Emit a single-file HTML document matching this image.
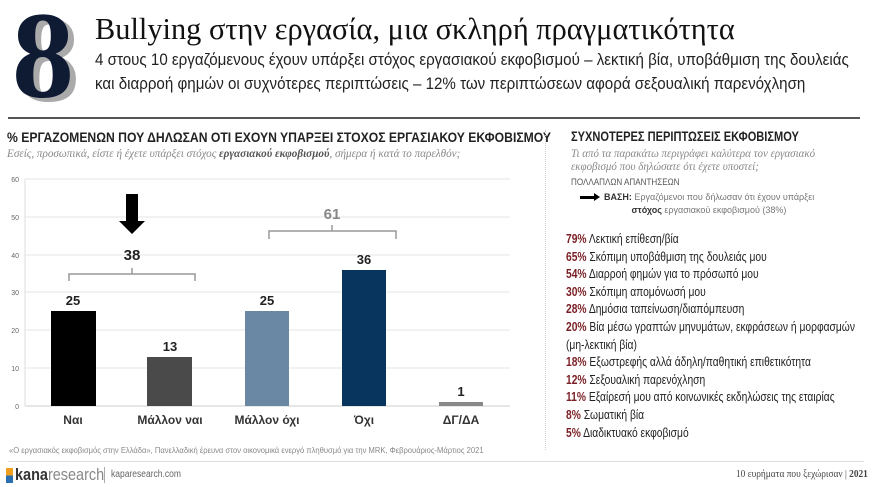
<!DOCTYPE html>
<html><head><meta charset="utf-8"><style>
*{margin:0;padding:0;box-sizing:border-box}
body{width:875px;height:487px;background:#fff;position:relative;overflow:hidden;font-family:"Liberation Sans","DejaVu Sans",sans-serif;color:#222}
.a{position:absolute;white-space:nowrap}
.c{transform-origin:0 0}
.serif{font-family:"Liberation Serif","DejaVu Serif",serif}
.it{font-family:"Liberation Serif",serif;font-style:italic;color:#888}
.r div{height:17.6px;font-size:13px;color:#222}
.r b{color:#7a1f24}
</style></head><body>
<div class="a serif" style="left:18px;top:-2px;font-size:124px;font-weight:bold;color:#aaa;line-height:1">8</div>
<div class="a serif" style="left:12px;top:-6px;font-size:124px;font-weight:bold;color:#0f1a33;line-height:1">8</div>
<div class="a serif c" style="left:95px;top:11px;font-size:31px;color:#111;transform:scaleX(.98)">Bullying στην εργασία, μια σκληρή πραγματικότητα</div>
<div class="a c" style="left:95px;top:50px;font-size:17px;color:#222;transform:scaleX(.89)">4 στους 10 εργαζόμενους έχουν υπάρξει στόχος εργασιακού εκφοβισμού – λεκτική βία, υποβάθμιση της δουλειάς</div>
<div class="a c" style="left:95px;top:74px;font-size:17px;color:#222;transform:scaleX(.89)">και διαρροή φημών οι συχνότερες περιπτώσεις – 12% των περιπτώσεων αφορά σεξουαλική παρενόχληση</div>
<div class="a" style="left:8px;top:117px;width:852px;height:2px;background:#555"></div>

<div class="a c" style="left:7px;top:129px;font-size:14px;font-weight:bold;color:#222;transform:scaleX(.87)">% ΕΡΓΑΖΟΜΕΝΩΝ ΠΟΥ ΔΗΛΩΣΑΝ ΟΤΙ ΕΧΟΥΝ ΥΠΑΡΞΕΙ ΣΤΟΧΟΣ ΕΡΓΑΣΙΑΚΟΥ ΕΚΦΟΒΙΣΜΟΥ</div>
<div class="a it c" style="left:7px;top:148px;font-size:11.5px;transform:scaleX(.97)">Εσείς, προσωπικά, είστε ή έχετε υπάρξει στόχος <b style="color:#555">εργασιακού εκφοβισμού</b>, σήμερα ή κατά το παρελθόν;</div>

<svg class="a" style="left:0;top:0" width="545" height="440" font-family="Liberation Sans, sans-serif">
<g stroke="#e6e6e6" stroke-width="1">
<line x1="25" x2="510" y1="179" y2="179"/><line x1="25" x2="510" y1="217" y2="217"/><line x1="25" x2="510" y1="255" y2="255"/><line x1="25" x2="510" y1="292" y2="292"/><line x1="25" x2="510" y1="330" y2="330"/><line x1="25" x2="510" y1="368" y2="368"/>
</g>
<line x1="25" x2="510" y1="406" y2="406" stroke="#ccc"/>
<line x1="25" x2="25" y1="179" y2="406" stroke="#ddd"/>
<g font-size="7" fill="#666" text-anchor="end">
<text x="19" y="182">60</text><text x="19" y="220">50</text><text x="19" y="258">40</text><text x="19" y="295">30</text><text x="19" y="333">20</text><text x="19" y="371">10</text><text x="19" y="409">0</text>
</g>
<rect x="51" y="311" width="45" height="95" fill="#000"/>
<rect x="147" y="357" width="45" height="49" fill="#4a4a4a"/>
<rect x="245" y="311" width="44" height="95" fill="#6a88a3"/>
<rect x="342" y="270" width="44" height="136" fill="#07355e"/>
<rect x="439" y="402" width="44" height="4" fill="#888"/>
<g font-size="13" font-weight="bold" fill="#222" text-anchor="middle">
<text x="73" y="305">25</text><text x="170" y="351">13</text><text x="267" y="305">25</text><text x="364" y="264">36</text><text x="461" y="396">1</text>
<text x="132" y="260" font-size="15">38</text>
<text x="332" y="219" font-size="15" fill="#888">61</text>
</g>
<g font-size="12" font-weight="bold" fill="#333" text-anchor="middle">
<text x="73" y="424">Ναι</text><text x="170" y="424">Μάλλον ναι</text><text x="267" y="424">Μάλλον όχι</text><text x="364" y="424">Όχι</text><text x="461" y="424">ΔΓ/ΔΑ</text>
</g>
<path d="M69,281 V274 H195 V281 M132,274 V268" fill="none" stroke="#999" stroke-width="1.5"/>
<path d="M269,239 V231 H396 V239 M332,231 V225" fill="none" stroke="#999" stroke-width="1.5"/>
<path d="M126,194 H138 V221 H145 L132,234 L119,221 H126 Z" fill="#000"/>
</svg>

<div class="a" style="left:545px;top:130px;width:0;height:320px;border-left:1px dotted #ccc"></div>

<div class="a c" style="left:571px;top:129px;font-size:13.5px;font-weight:bold;color:#222;transform:scaleX(.82)">ΣΥΧΝΟΤΕΡΕΣ ΠΕΡΙΠΤΩΣΕΙΣ ΕΚΦΟΒΙΣΜΟΥ</div>
<div class="a it c" style="left:571px;top:148px;font-size:11.5px;line-height:13px;transform:scaleX(.95)">Τι από τα παρακάτω περιγράφει καλύτερα τον εργασιακό<br>εκφοβισμό που δηλώσατε ότι έχετε υποστεί;</div>
<div class="a c" style="left:571px;top:177px;font-size:9.5px;color:#555;transform:scaleX(.85)">ΠΟΛΛΑΠΛΩΝ ΑΠΑΝΤΗΣΕΩΝ</div>
<div class="a" style="left:580px;top:196px;width:16px;height:3px;background:#000"></div>
<div class="a" style="left:594px;top:193px;border-left:6px solid #000;border-top:4.5px solid transparent;border-bottom:4.5px solid transparent"></div>
<div class="a" style="left:604px;top:191px;font-size:9px;color:#777;line-height:13px"><b style="color:#333">ΒΑΣΗ:</b> Εργαζόμενοι που δήλωσαν ότι έχουν υπάρξει<br>&nbsp;&nbsp;&nbsp;&nbsp;&nbsp;&nbsp;&nbsp;&nbsp;&nbsp;&nbsp;&nbsp;<b style="color:#333">στόχος</b> εργασιακού εκφοβισμού (38%)</div>

<div class="a r c" style="left:566px;top:231px;transform:scaleX(.79)">
<div><b>79%</b> Λεκτική επίθεση/βία</div>
<div><b>65%</b> Σκόπιμη υποβάθμιση της δουλειάς μου</div>
<div><b>54%</b> Διαρροή φημών για το πρόσωπό μου</div>
<div><b>30%</b> Σκόπιμη απομόνωσή μου</div>
<div><b>28%</b> Δημόσια ταπείνωση/διαπόμπευση</div>
<div><b>20%</b> Βία μέσω γραπτών μηνυμάτων, εκφράσεων ή μορφασμών</div>
<div>(μη-λεκτική βία)</div>
<div><b>18%</b> Εξωστρεφής αλλά άδηλη/παθητική επιθετικότητα</div>
<div><b>12%</b> Σεξουαλική παρενόχληση</div>
<div><b>11%</b> Εξαίρεσή μου από κοινωνικές εκδηλώσεις της εταιρίας</div>
<div><b>8%</b> Σωματική βία</div>
<div><b>5%</b> Διαδικτυακό εκφοβισμό</div>
</div>

<div class="a c" style="left:9px;top:446px;font-size:8px;color:#888;transform:scaleX(.95)">«Ο εργασιακός εκφοβισμός στην Ελλάδα», Πανελλαδική έρευνα στον οικονομικά ενεργό πληθυσμό για την MRK, Φεβρουάριος-Μάρτιος 2021</div>
<div class="a" style="left:8px;top:461px;width:856px;height:1px;background:#ddd"></div>
<div class="a" style="left:6px;top:468px;width:7px;height:15px;background:linear-gradient(#f0a020 50%,#2a6fb0 50%)"></div>
<div class="a c" style="left:15px;top:465px;font-size:17px;color:#333;transform:scaleX(.85)"><b>kana</b><span style="color:#888">research</span></div>
<div class="a" style="left:104px;top:467px;width:1px;height:16px;background:#aaa"></div>
<div class="a c" style="left:111px;top:469px;font-size:10px;color:#666;transform:scaleX(.85)">kaparesearch.com</div>
<div class="a serif c" style="left:736px;top:468px;font-size:11px;color:#444;transform:scaleX(.85)">10 ευρήματα που ξεχώρισαν | <b>2021</b></div>
</body></html>
